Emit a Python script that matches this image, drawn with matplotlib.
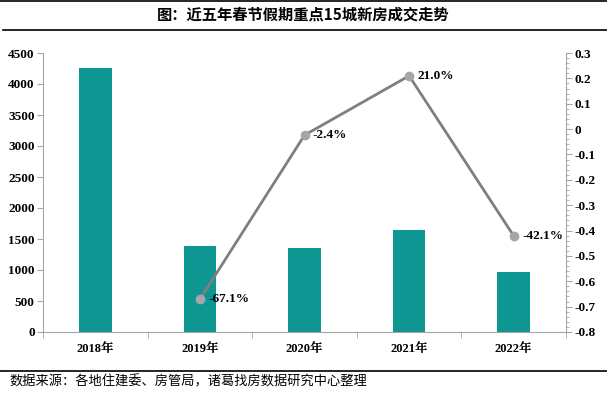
import matplotlib
matplotlib.use("Agg")
import matplotlib.pyplot as plt
from matplotlib.ticker import MultipleLocator, FuncFormatter
from matplotlib.lines import Line2D

years = ["2018年", "2019年", "2020年", "2021年", "2022年"]
volumes = [4260, 1395, 1360, 1645, 960]
growth_years = ["2019年", "2020年", "2021年", "2022年"]
growth = [-0.671, -0.024, 0.210, -0.421]
growth_labels = ["-67.1%", "-2.4%", "21.0%", "-42.1%"]

title = "图：近五年春节假期重点15城新房成交走势"
source = "数据来源：各地住建委、房管局，诸葛找房数据研究中心整理"

serif = ["Liberation Serif", "Noto Serif CJK SC", "Noto Sans CJK SC", "DejaVu Sans"]
cjk = ["Noto Sans CJK SC", "DejaVu Sans"]

fig = plt.figure(figsize=(6.07, 3.93), dpi=100)
ax = fig.add_axes([43/607, 61/393, (566-43)/607, (332-53)/393])

x = list(range(len(years)))
ax.bar(x, volumes, width=0.31, color="#0E9692", zorder=2)
ax.set_xlim(-0.5, len(years) - 0.5)
ax.set_ylim(0, 4500)
ax.yaxis.set_major_locator(MultipleLocator(500))
ax.set_xticks(x)
ax.set_xticklabels(years)
ax.set_xticks([i + 0.5 for i in range(-1, len(years))], minor=True)
ax.tick_params(axis="x", which="major", length=0, pad=8)
ax.tick_params(axis="x", which="minor", length=4, color="#A6A6A6")
ax.tick_params(axis="y", length=4, color="#A6A6A6", pad=2)
for lab in ax.get_xticklabels():
    lab.set_fontfamily(serif)
    lab.set_fontweight("bold")
    lab.set_fontsize(9)
for lab in ax.get_yticklabels():
    lab.set_fontfamily(serif)
    lab.set_fontweight("bold")
    lab.set_fontsize(9.5)
for s in ["top", "right"]:
    ax.spines[s].set_visible(False)
for s in ["left", "bottom"]:
    ax.spines[s].set_color("#A6A6A6")

ax2 = ax.twinx()
gx = [years.index(g) for g in growth_years]
ax2.plot(gx, growth, color="#7F7F7F", linewidth=2, marker="o", markersize=6,
         markerfacecolor="#A6A6A6", markeredgecolor="#A6A6A6", zorder=3)
ax2.set_ylim(-0.8, 0.3)
ax2.yaxis.set_major_locator(MultipleLocator(0.1))
ax2.yaxis.set_minor_locator(MultipleLocator(0.02))
ax2.yaxis.set_major_formatter(FuncFormatter(lambda v, p: "0" if abs(v) < 1e-9 else f"{v:.1f}"))
ax2.tick_params(axis="y", which="major", length=4, color="#A6A6A6", pad=2)
ax2.tick_params(axis="y", which="minor", length=2, color="#A6A6A6")
for lab in ax2.get_yticklabels():
    lab.set_fontfamily(serif)
    lab.set_fontweight("bold")
    lab.set_fontsize(9.5)
for s in ["top", "left", "bottom"]:
    ax2.spines[s].set_visible(False)
ax2.spines["right"].set_color("#A6A6A6")

for xi, yi, lab in zip(gx, growth, growth_labels):
    ax2.annotate(lab, (xi, yi), xytext=(6, 0), textcoords="offset points",
                 ha="left", va="center", fontfamily=serif, fontweight="bold",
                 fontsize=9.5, color="black")

fig.text(0.5, 15/393 and 1 - 15/393, title, ha="center", va="center",
         fontfamily=cjk, fontweight="bold", fontsize=11)
fig.add_artist(Line2D([0, 1], [1 - 0.5/393, 1 - 0.5/393], color="black", linewidth=1.2))
fig.add_artist(Line2D([3/607, 1], [1 - 30/393, 1 - 30/393], color="black", linewidth=1.2))
fig.add_artist(Line2D([0, 1], [1 - 371/393, 1 - 371/393], color="black", linewidth=1.2))
fig.text(9/607, 1 - 382/393, source, ha="left", va="center",
         fontfamily=cjk, fontsize=9.5)

fig.savefig("out.png", dpi=100)
